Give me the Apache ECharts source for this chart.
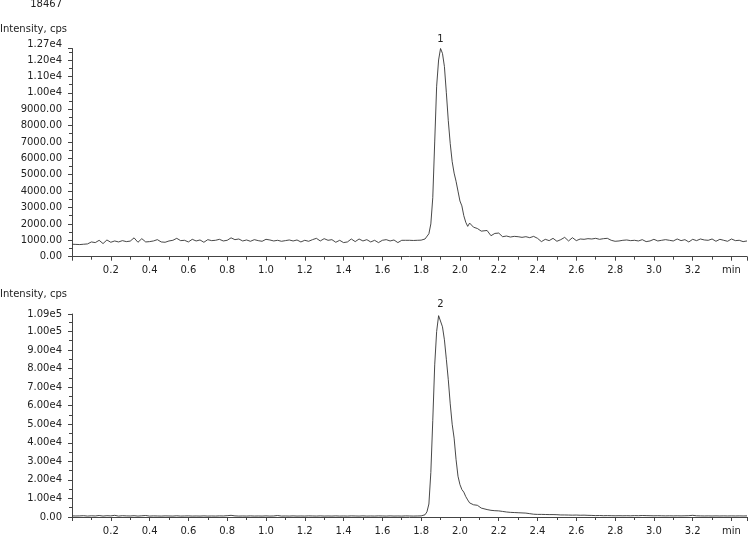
<!DOCTYPE html>
<html><head><meta charset="utf-8">
<script src="https://cdn.jsdelivr.net/npm/echarts@6/dist/echarts.min.js"></script>
<style>html,body{margin:0;padding:0;background:#fff}#c{width:750px;height:536px}</style>
</head><body><div id="c"></div><script>
// retention time (min)
const times = [
0.00,0.02,0.04,0.06,0.08,0.10,0.12,0.14,0.16,0.18,0.20,0.22,0.24,0.26,0.28,0.30,0.32,0.34,0.36,0.38,
0.40,0.42,0.44,0.46,0.48,0.50,0.52,0.54,0.56,0.58,0.60,0.62,0.64,0.66,0.68,0.70,0.72,0.74,0.76,0.78,
0.80,0.82,0.84,0.86,0.88,0.90,0.92,0.94,0.96,0.98,1.00,1.02,1.04,1.06,1.08,1.10,1.12,1.14,1.16,1.18,
1.20,1.22,1.24,1.26,1.28,1.30,1.32,1.34,1.36,1.38,1.40,1.42,1.44,1.46,1.48,1.50,1.52,1.54,1.56,1.58,
1.60,1.62,1.64,1.66,1.68,1.70,1.72,1.74,1.76,1.78,1.80,
1.81,1.82,1.83,1.84,1.85,1.86,1.87,1.88,1.89,1.90,1.91,1.92,1.93,1.94,1.95,1.96,1.97,1.98,1.99,2.00,
2.01,2.02,2.03,2.04,2.05,2.06,2.07,2.08,2.09,2.10,2.11,2.12,
2.14,2.16,2.18,2.20,2.22,2.24,2.26,2.28,2.30,2.32,2.34,2.36,2.38,2.40,2.42,2.44,2.46,2.48,2.50,2.52,
2.54,2.56,2.58,2.60,2.62,2.64,2.66,2.68,2.70,2.72,2.74,2.76,2.78,2.80,2.82,2.84,2.86,2.88,2.90,2.92,
2.94,2.96,2.98,3.00,3.02,3.04,3.06,3.08,3.10,3.12,3.14,3.16,3.18,3.20,3.22,3.24,3.26,3.28,3.30,3.32,
3.34,3.36,3.38,3.40,3.42,3.44,3.46,3.48
];
// intensity (cps), trace 1
const intensity1 = [
760,750,740,760,780,900,860,1000,800,1020,880,960,900,980,920,950,1150,880,1100,900,
920,960,1040,900,880,960,1000,1120,980,1000,900,1060,960,1020,880,1040,980,1000,1060,960,
1000,1150,1040,1080,960,1020,940,1040,980,940,1060,1020,960,1000,940,980,1020,960,1020,900,
1000,940,1040,1120,960,1100,1000,1040,880,1000,860,900,1080,920,1080,960,1040,900,1000,860,
1000,1040,960,1020,860,1000,1000,1000,990,1000,1010,
1020,1080,1150,1400,2000,3600,7000,10400,12000,12700,12400,11600,10000,8300,6900,5800,5100,4600,4000,3400,
3100,2500,2100,1850,2050,2000,1800,1750,1720,1700,1560,1520,
1600,1280,1420,1440,1220,1260,1200,1240,1220,1180,1220,1160,1240,1120,920,1060,980,1120,940,1040,
1180,960,1160,980,1080,1060,1100,1080,1120,1060,1100,1120,1000,940,960,1000,1020,980,1000,960,
1040,920,960,1060,960,1000,1040,1000,960,1080,980,1040,900,1060,980,1080,1020,1000,1080,940,
1060,1000,940,1080,980,1000,920,960
];
// intensity (cps), trace 2
const intensity2 = [
600,550,600,700,500,650,550,800,500,700,600,900,500,700,600,550,700,500,650,800,
500,600,550,500,600,550,500,650,500,550,600,500,550,500,600,500,550,500,600,550,
700,900,600,500,550,500,600,500,550,500,600,500,550,800,500,550,500,600,500,550,
500,600,550,500,600,500,550,500,600,500,550,500,600,550,500,600,500,550,500,600,
550,500,600,500,550,500,600,550,500,550,600,
800,1200,2800,7000,24000,52000,82000,100000,108500,109400,102500,95500,85000,74000,61000,50000,42500,31000,22000,17500,
14800,13400,11000,9200,7600,6900,6600,6500,6300,5300,4800,4500,
4000,3600,3400,3300,3000,2700,2500,2400,2300,2200,2100,1800,1500,1400,1400,1350,1300,1300,1250,1100,
1100,1050,1000,1050,950,1000,900,850,750,800,700,750,700,650,700,650,700,650,750,700,
800,750,700,650,700,650,600,650,600,650,600,650,700,900,650,600,550,600,550,600,
550,600,550,600,550,600,550,600
];
const yMax1 = 12700, yMax2 = 109400;
const peakTime = [1.90, 1.90];
const peakValue = [12700, 109400];
const peakLabel = ['1', '2'];
const sampleId = '18467';
const yName = 'Intensity, cps';

const FONT = 'DejaVu Sans';
const TXT = '#222';
const AX = '#444';

function pairs(v){ return times.map((t,i)=>[t, v[i]]); }
function yFmt(max){
  return function(v){
    let s = v >= 10000 ? v.toExponential(2).replace('e+','e') : v.toFixed(2);
    if (v === max) return '{mx|' + s + '}';
    return s;
  };
}
function xFmt(v){
  if (v === 0) return '';
  if (Math.abs(v - 3.4) < 1e-6) return 'min';
  if (v > 3.45) return '';
  return v.toFixed(1);
}
function xAxis(idx){
  return {
    type:'value', gridIndex: idx, min:0, max:3.48, interval:0.2,
    axisLine:{show:true, onZero:false, lineStyle:{color:AX, width:1}},
    axisTick:{show:true, length:4, lineStyle:{color:AX}},
    minorTick:{show:true, splitNumber:2, length:3, lineStyle:{color:AX}},
    splitLine:{show:false},
    axisLabel:{formatter:xFmt, color:TXT, fontFamily:FONT, fontSize:10, margin:9,
      showMinLabel:true, showMaxLabel:true}
  };
}
function yAxis(idx, max, interval){
  return {
    type:'value', gridIndex: idx, min:0, max:max, interval:interval,
    axisLine:{show:true, lineStyle:{color:AX, width:1}},
    axisTick:{show:true, length:4, lineStyle:{color:AX}},
    minorTick:{show:true, splitNumber:2, length:3, lineStyle:{color:AX}},
    splitLine:{show:false},
    axisLabel:{formatter:yFmt(max), color:TXT, fontFamily:FONT, fontSize:10, margin:10,
      rich:{mx:{fontFamily:FONT, fontSize:10, color:TXT, padding: idx===0 ? [0,0,8,0] : [0,0,0,0]}}}
  };
}
function series(idx, v, p){
  return {
    type:'line', xAxisIndex:idx, yAxisIndex:idx, data:pairs(v), showSymbol:false, symbol:'none',
    lineStyle:{color:'#333', width:0.9}, animation:false, silent:true,
    markPoint:{
      symbol:'circle', symbolSize:1, itemStyle:{color:'rgba(0,0,0,0)'},
      label:{show:true, position:'top', distance:4, color:TXT, fontFamily:FONT, fontSize:10,
        formatter: peakLabel[p]},
      data:[{coord:[peakTime[p], peakValue[p]]}]
    }
  };
}
const chart = echarts.init(document.getElementById('c'), null, {renderer:'canvas'});
chart.setOption({
  backgroundColor:'#fff',
  animation:false,
  textStyle:{fontFamily:FONT},
  grid:[
    {left:72, right:2, top:48.5, height:208.2},
    {left:72, right:2, top:314, height:205.3}
  ],
  xAxis:[xAxis(0), xAxis(1)],
  yAxis:[yAxis(0, yMax1, 1000), yAxis(1, yMax2, 10000)],
  series:[series(0, intensity1, 0), series(1, intensity2, 1)],
  graphic:[
    {type:'text', x:62, y:4, style:{text:sampleId, fill:TXT, font:'10px "DejaVu Sans"', align:'right', verticalAlign:'middle'}},
    {type:'text', x:0, y:29, style:{text:yName, fill:TXT, font:'10px "DejaVu Sans"', align:'left', verticalAlign:'middle'}},
    {type:'text', x:0, y:294, style:{text:yName, fill:TXT, font:'10px "DejaVu Sans"', align:'left', verticalAlign:'middle'}}
  ]
});
</script></body></html>
